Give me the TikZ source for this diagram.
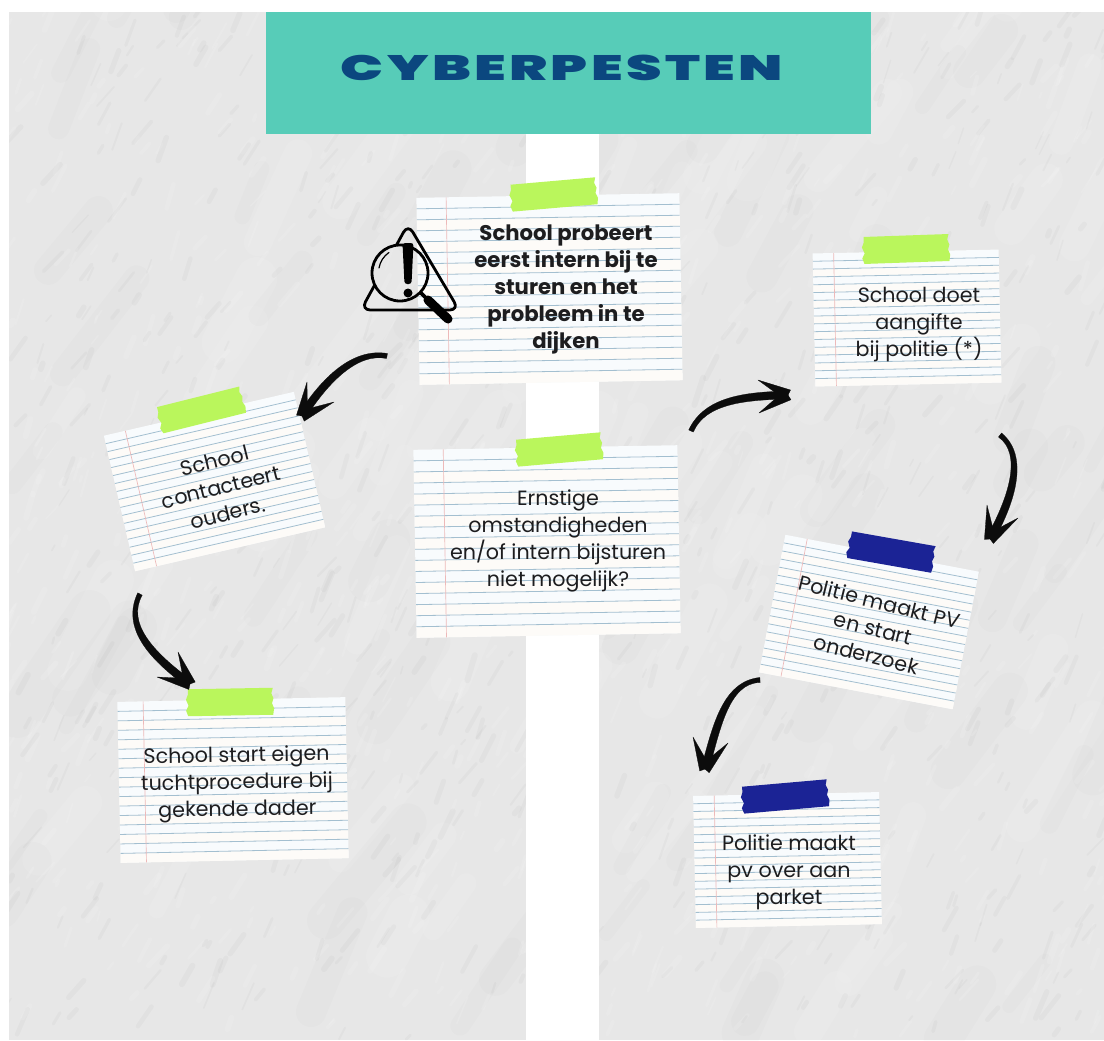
\documentclass[tikz,border=0pt]{standalone}
\usepackage{fontspec}
\usepackage{graphicx}
\usetikzlibrary{calc}
\setmainfont{Poppins}
\newfontfamily\titlefont[LetterSpace=6]{Poppins Black}
\definecolor{bggrey}{HTML}{E7E7E7}
\definecolor{teal1}{HTML}{57CCB8}
\definecolor{navy1}{HTML}{0B477F}
\definecolor{tapegreen}{HTML}{BAF65C}
\definecolor{tapeblue}{HTML}{1B2395}
\definecolor{paperw}{HTML}{F8FBFD}
\definecolor{paperc}{HTML}{FDFBF8}
\definecolor{rule1}{HTML}{A3BFD0}
\definecolor{margin1}{HTML}{EDB9B9}
\definecolor{ink1}{HTML}{0C0C0C}
\definecolor{txt1}{HTML}{1D1D1F}
\tikzset{
  paperbox/.style={inner sep=0pt,outer sep=0pt,fill=paperw},
  ruleline/.style={draw=rule1,line width=.6pt},
  marginline/.style={draw=margin1,line width=.5pt},
  notetext/.style={align=center,text=txt1,font=\fontsize{15.5}{20.25}\selectfont,inner sep=0pt},
  boldtext/.style={notetext,font=\fontsize{15.9}{20.25}\selectfont\bfseries},
  brush/.style={draw=ink1,fill=ink1,line width=.2pt,line join=round},
}
\newcommand{\notepaper}[6]{% name cx cy w h rot
  \node[paperbox,minimum width=#4*0.75pt,minimum height=#5*0.75pt,rotate=#6] (#1) at (#2,#3) {};
  \begin{scope}[shift={(#2,#3)},rotate=#6]
    \pgfmathsetmacro{\hw}{#4/2}\pgfmathsetmacro{\hh}{#5/2}
    \pgfmathsetmacro{\st}{#5/17}
    \foreach \k in {1,...,16}{
      \pgfmathsetmacro{\yy}{-\hh+\k*\st}
      \ifodd\k\else
        \fill[paperc] (-\hw,\yy) rectangle (\hw,\yy+\st);
      \fi
    }
    \foreach \k in {1,...,16}{
      \pgfmathsetmacro{\yy}{-\hh+\k*\st}
      \draw[ruleline] (-\hw,\yy) -- (\hw,\yy);
    }
    \pgfmathsetmacro{\mx}{-\hw+0.113*#4}
    \draw[marginline] (\mx,-\hh) -- (\mx,\hh);
  \end{scope}}
\newcommand{\tapestrip}[4]{% cx cy rot colour
  \fill[#4,shift={(#1,#2)},rotate=#3]
    (-42,-13.5) -- (43,-13.5) -- (41.5,-8) -- (43.5,-3) -- (42,2) -- (44,7) -- (43,13.5)
    -- (-42,13.5) -- (-44,8) -- (-41.5,3) -- (-44,-3) -- (-42,-8) -- cycle;}
\newcommand{\brusharrow}[6]{% tail c1 c2 tip barb1 barb2
  \draw[brush]
    ($(#1)!1.9pt!90:(#2)$)
    .. controls ($(#2)!2.7pt!90:(#3)$) and ($(#3)!3pt!90:(#4)$) .. ($(#4)!3pt!-90:(#3)$)
    -- ($(#4)!3pt!90:(#3)$)
    .. controls ($(#3)!3pt!-90:(#4)$) and ($(#2)!2.7pt!-90:(#3)$) .. ($(#1)!1.9pt!-90:(#2)$)
    -- cycle;
  \draw[brush] (#5) -- ($(#4)!4.2pt!90:(#5)$) -- ($(#4)!4.2pt!-90:(#5)$) -- cycle;
  \draw[brush] (#6) -- ($(#4)!4.2pt!90:(#6)$) -- ($(#4)!4.2pt!-90:(#6)$) -- cycle;}
\begin{document}
\begin{tikzpicture}[x=0.75pt,y=-0.75pt]
\useasboundingbox (0,0) rectangle (1104,1040);
\fill[white] (0,0) rectangle (1104,1040);
% textured wall
\fill[bggrey] (9,12) rectangle (1104,1040);
\begin{scope}
  \clip (9,12) rectangle (1104,1040);
  \pgfmathsetseed{11}
  \foreach \i in {1,...,160}{
    \pgfmathsetmacro{\px}{rnd*1104}
    \pgfmathsetmacro{\py}{rnd*1040}
    \pgfmathsetmacro{\ang}{-50-rnd*20}
    \pgfmathsetmacro{\len}{40+rnd*90}
    \pgfmathsetmacro{\wid}{10+rnd*22}
    \pgfmathparse{rnd>0.5?1:0}
    \ifnum\pgfmathresult=1\relax
      \draw[black,opacity=.012,line width=\wid pt,line cap=round] (\px,\py) -- ++(\ang:\len);
    \else
      \draw[white,opacity=.09,line width=\wid pt,line cap=round] (\px,\py) -- ++(\ang:\len);
    \fi
  }
  \foreach \i in {1,...,1500}{
    \pgfmathsetmacro{\px}{rnd*1104}
    \pgfmathsetmacro{\py}{rnd*1040}
    \pgfmathsetmacro{\ang}{-45-rnd*30}
    \pgfmathsetmacro{\len}{5+rnd*24}
    \pgfmathsetmacro{\wid}{1+rnd*3.5}
    \pgfmathparse{rnd>0.5?1:0}
    \ifnum\pgfmathresult=1\relax
      \draw[black,opacity=.022,line width=\wid pt,line cap=round] (\px,\py) -- ++(\ang:\len);
    \else
      \draw[white,opacity=.12,line width=\wid pt,line cap=round] (\px,\py) -- ++(\ang:\len);
    \fi
  }
\end{scope}
% white strip and header
\fill[white] (526,134) rectangle (599,1040);
\node[fill=teal1,minimum width=605*0.75pt,minimum height=122*0.75pt,inner sep=0pt,outer sep=0pt] (header) at (568.5,73) {};
\node[text=navy1,inner sep=0pt] (title) at (562,68) {\scalebox{1.61}[1]{\titlefont\fontsize{26.5}{30}\selectfont CYBERPESTEN}};
% notes
\notepaper{pa}{549.5}{289}{263}{187}{1}
\tapestrip{553.5}{194.5}{5}{tapegreen}
\notepaper{pb}{547}{541.5}{264}{188}{1}
\tapestrip{559}{449.5}{5}{tapegreen}
\notepaper{pc}{214.5}{481.5}{195}{139}{13}
\tapestrip{201}{410}{14}{tapegreen}
\notepaper{pd}{233}{780}{228}{161}{1.2}
\tapestrip{230}{702}{1}{tapegreen}
\notepaper{pe}{907}{318}{186}{133}{1.2}
\tapestrip{906}{249}{2}{tapegreen}
\notepaper{pf}{869}{622}{197}{140}{-10.8}
\tapestrip{891}{552}{-10}{tapeblue}
\notepaper{pg}{787.5}{860}{186}{132}{1.2}
\tapestrip{785}{796.5}{5}{tapeblue}
% texts
\node[boldtext] (ta) at (566,289) {School probeert\\eerst intern bij te\\sturen en het\\probleem in te\\dijken};
\node[notetext] (tb) at (558,541) {Ernstige\\omstandigheden\\en/of intern bijsturen\\niet mogelijk?};
\node[notetext,rotate=14] (tc) at (221,487) {School\\contacteert\\ouders.};
\node[notetext,rotate=1] (td) at (237,784) {School start eigen\\tuchtprocedure bij\\gekende dader};
\node[notetext] (te) at (919,325) {School doet\\aangifte\\bij politie (*)};
\node[notetext,rotate=-14] (tf) at (873,628) {Politie maakt PV\\en start\\onderzoek};
\node[notetext] (tg) at (789,872) {Politie maakt\\pv over aan\\parket};
% warning icon
\begin{scope}[even odd rule]
  \clip (340,210) rectangle (480,340) (400,273) circle (28);
  \draw[black,line width=2.1pt,line join=round,rounded corners=7pt] (408,224) -- (459,310) -- (361,310) -- cycle;
\end{scope}
\draw[black,line width=2.1pt] (400,273) circle (28);
\fill[black,rounded corners=2pt] (402.5,243) -- (413.5,243) -- (411.5,284) -- (404.5,284) -- cycle;
\fill[black] (408,293) circle (4.5);
\draw[black,line width=.9pt,line cap=round] (379,268) arc (190:235:24);
\draw[black,line width=2.8pt] (420,292) -- (430,302);
\draw[black,line width=6.8pt,line cap=round] (428,300) -- (448,319);
% arrows
\coordinate (a1t) at (387,356); \coordinate (a1a) at (355,350); \coordinate (a1b) at (325,380); \coordinate (a1p) at (302,416);
\coordinate (a1u) at (307,382); \coordinate (a1v) at (334,402);
\brusharrow{a1t}{a1a}{a1b}{a1p}{a1u}{a1v}
\coordinate (a2t) at (140,594); \coordinate (a2a) at (124,625); \coordinate (a2b) at (150,655); \coordinate (a2p) at (190,684);
\coordinate (a2u) at (178,652); \coordinate (a2v) at (157,677);
\brusharrow{a2t}{a2a}{a2b}{a2p}{a2u}{a2v}
\coordinate (a3t) at (691,431); \coordinate (a3a) at (705,400); \coordinate (a3b) at (745,396); \coordinate (a3p) at (788,395);
\coordinate (a3u) at (758,380); \coordinate (a3v) at (759,413);
\brusharrow{a3t}{a3a}{a3b}{a3p}{a3u}{a3v}
\coordinate (a4t) at (1000,435); \coordinate (a4a) at (1026,455); \coordinate (a4b) at (1012,500); \coordinate (a4p) at (990,539);
\coordinate (a4u) at (987,505); \coordinate (a4v) at (1018,518);
\brusharrow{a4t}{a4a}{a4b}{a4p}{a4u}{a4v}
\coordinate (a5t) at (760,680); \coordinate (a5a) at (725,682); \coordinate (a5b) at (716,730); \coordinate (a5p) at (705,769);
\coordinate (a5u) at (693,737); \coordinate (a5v) at (728,743);
\brusharrow{a5t}{a5a}{a5b}{a5p}{a5u}{a5v}
\end{tikzpicture}
\end{document}
